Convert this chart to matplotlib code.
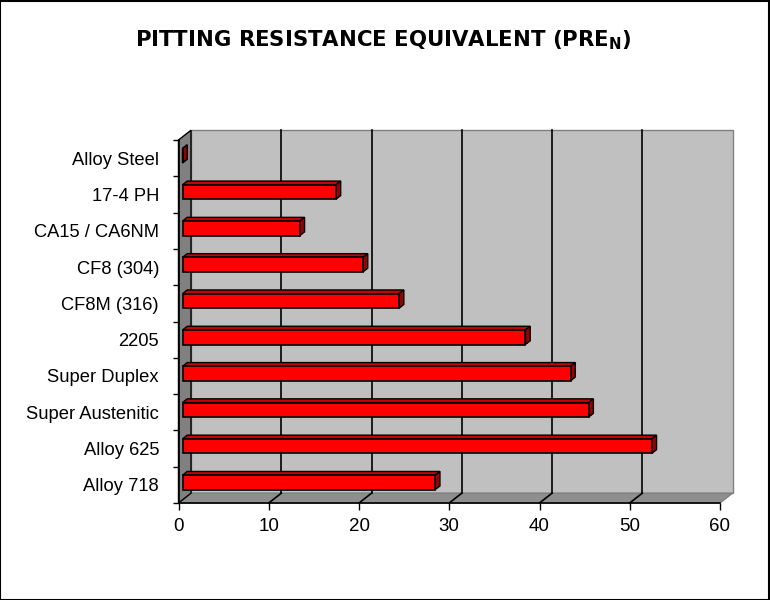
import matplotlib
matplotlib.use("Agg")
import matplotlib.pyplot as plt
from matplotlib.patches import Polygon, Rectangle

# ---- data (bottom to top) ----
categories = ["Alloy 718", "Alloy 625", "Super Austenitic", "Super Duplex", "2205",
              "CF8M (316)", "CF8 (304)", "CA15 / CA6NM", "17-4 PH", "Alloy Steel"]
values = [28, 52, 45, 43, 38, 24, 20, 13, 17, 0]
xticks = [0, 10, 20, 30, 40, 50, 60]
title = r"PITTING RESISTANCE EQUIVALENT (PRE$_{\mathbf{N}}$)"

XMAX = 60
N = len(categories)

fig = plt.figure(figsize=(7.7, 6.0), dpi=100)
W, H = 770, 600
L, R, T, B = 178.5, 720.0, 140.0, 503.0
ax = fig.add_axes([L / W, (H - B) / H, (R - L) / W, (B - T) / H])
ax.set_xlim(0, XMAX)
ax.set_ylim(0, N)

# depth vector in data units
px_per_x = (R - L) / XMAX
px_per_y = (B - T) / N
DX = 12.5 / px_per_x
DY = 9.8 / px_per_y

# walls
back = Rectangle((DX, DY), XMAX, N, facecolor="#C0C0C0", edgecolor="#808080",
                 lw=1.0, clip_on=False, zorder=0)
ax.add_patch(back)
floor = Polygon([(0, 0), (XMAX, 0), (XMAX + DX, DY), (DX, DY)], closed=True,
                facecolor="#8E8E8E", edgecolor="#808080", lw=1.0, clip_on=False, zorder=1)
ax.add_patch(floor)
left = Polygon([(0, 0), (DX, DY), (DX, N + DY), (0, N)], closed=True,
               facecolor="#808080", edgecolor="black", lw=1.0, clip_on=False, zorder=1)
ax.add_patch(left)

# gridlines on back wall + floor diagonals
for xv in xticks[1:-1]:
    ax.plot([xv + DX, xv + DX], [DY, N + DY], color="black", lw=1.2, clip_on=False, zorder=2)
    ax.plot([xv, xv + DX], [0, DY], color="black", lw=1.2, clip_on=False, zorder=2)

# bars
f1, f2 = 0.32, 0.70
bh = 0.40
b0 = 0.28
for i, v in enumerate(values):
    y1 = i + b0 + f1 * DY
    y2 = i + b0 + f2 * DY
    x1 = f1 * DX
    x2 = f2 * DX
    top = Polygon([(x1, y1 + bh), (x1 + v, y1 + bh), (x2 + v, y2 + bh), (x2, y2 + bh)],
                  closed=True, facecolor="#C80000", edgecolor="black", lw=1.0,
                  clip_on=False, zorder=5)
    side = Polygon([(x1 + v, y1), (x2 + v, y2), (x2 + v, y2 + bh), (x1 + v, y1 + bh)],
                   closed=True, facecolor="#990000", edgecolor="black", lw=1.0,
                   clip_on=False, zorder=5)
    front = Rectangle((x1, y1), v, bh, facecolor="#FF0000", edgecolor="black",
                      lw=1.2, clip_on=False, zorder=6)
    ax.add_patch(top)
    ax.add_patch(side)
    ax.add_patch(front)

# axes styling
ax.set_facecolor("none")
for s in ["top", "right"]:
    ax.spines[s].set_visible(False)
for s in ["left", "bottom"]:
    ax.spines[s].set_color("black")
    ax.spines[s].set_linewidth(1.2)
    ax.spines[s].set_zorder(7)

ax.set_xticks(xticks)
ax.set_xticklabels([str(x) for x in xticks], fontfamily="Liberation Sans", fontsize=13.5)
ax.tick_params(axis="x", direction="out", length=5, width=1, pad=6, colors="black")

ax.set_yticks(range(N + 1))
ax.set_yticklabels([])
ax.tick_params(axis="y", which="major", direction="out", length=4, width=1)
ax.set_yticks([i + 0.5 for i in range(N)], minor=True)
ax.set_yticklabels(categories, minor=True, fontfamily="Liberation Sans", fontsize=13.2)
ax.tick_params(axis="y", which="minor", length=0, pad=14)

fig.text(0.497, 1 - 40 / H, title, ha="center", va="center",
         fontfamily="DejaVu Sans", fontweight="bold", fontsize=15.3)

# chart border
fig.patches.append(Rectangle((0.0005, 0.0008), 0.998, 0.998, transform=fig.transFigure,
                             fill=False, edgecolor="black", lw=1.5))

fig.savefig("out.png", dpi=100, facecolor="white")
